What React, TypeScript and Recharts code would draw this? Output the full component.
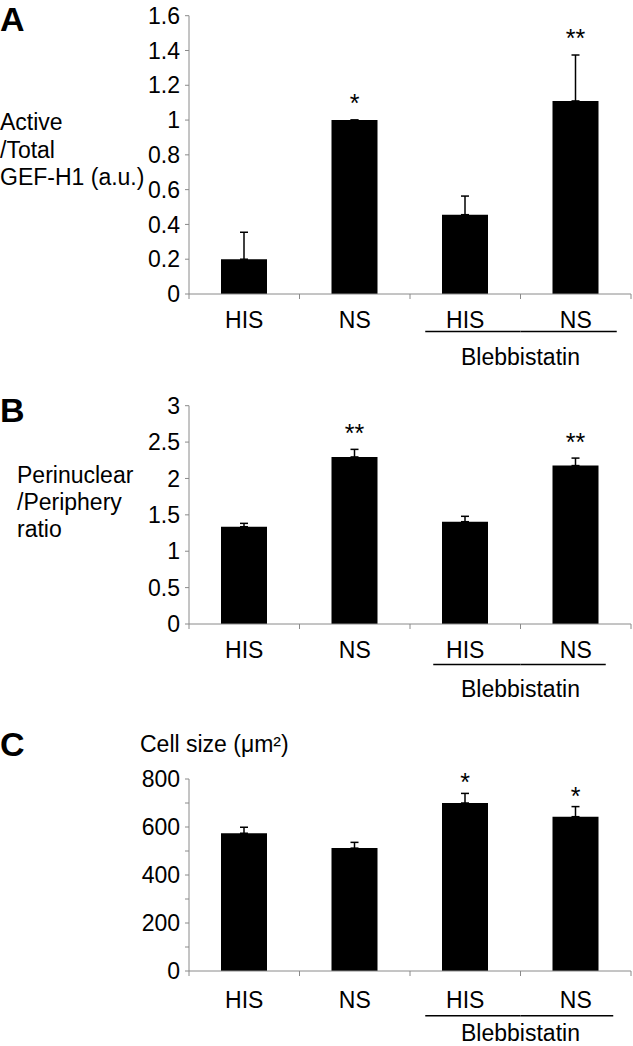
import React from "react";
import { Bar, BarChart, ErrorBar, LabelList, XAxis, YAxis } from "recharts";

const FONT = "'Liberation Sans', Arial, Helvetica, sans-serif";
const AXIS = "#8a8a8a";

// shared categories
const categories = ["HIS", "NS", "HIS", "NS"];
const treatment = ["", "", "Blebbistatin", "Blebbistatin"];

// A: active / total GEF-H1
const gefValues = [0.2, 1.0, 0.456, 1.11];
const gefErrors = [0.155, 0, 0.107, 0.264];
const gefStars = ["", "*", "", "**"];
const gefTicks = [0, 0.2, 0.4, 0.6, 0.8, 1, 1.2, 1.4, 1.6];

// B: perinuclear / periphery ratio
const ratioValues = [1.337, 2.296, 1.406, 2.177];
const ratioErrors = [0.046, 0.104, 0.074, 0.103];
const ratioStars = ["", "**", "", "**"];
const ratioTicks = [0, 0.5, 1, 1.5, 2, 2.5, 3];

// C: cell size
const sizeValues = [574, 512, 700, 643];
const sizeErrors = [25, 24, 40, 42];
const sizeStars = ["", "", "*", "*"];
const sizeTicks = [0, 100, 200, 300, 400, 500, 600, 700, 800];

interface TickLayout {
  labelDy: number;
  lineDy: number;
  groupDy: number;
  lineFrom: number;
  lineTo: number;
}

function CategoryTick(props: any) {
  const { x, y, payload, index, layout } = props;
  const lay = layout as TickLayout;
  const half =
    typeof payload?.offset === "number" && payload.offset > 0 ? payload.offset : 55.25;
  const i = typeof index === "number" ? index : payload?.index ?? 0;
  const grp = treatment[i];
  const startsGroup = grp && treatment[i - 1] !== grp;
  const endsGroup = grp && treatment[i + 1] !== grp;
  return (
    <g>
      {i === 0 && (
        <line x1={x - half} x2={x - half} y1={y} y2={y + 5} stroke={AXIS} />
      )}
      <line x1={x + half} x2={x + half} y1={y} y2={y + 5} stroke={AXIS} />
      <text x={x} y={y + lay.labelDy} textAnchor="middle" fontSize={23} fill="#000">
        {categories[i]}
      </text>
      {grp && (
        <line
          x1={startsGroup ? x - lay.lineFrom : x - half}
          x2={endsGroup ? x + lay.lineTo : x + half}
          y1={y + lay.lineDy}
          y2={y + lay.lineDy}
          stroke="#000"
          strokeWidth={1.5}
        />
      )}
      {startsGroup && !endsGroup && (
        <text x={x + half} y={y + lay.groupDy} textAnchor="middle" fontSize={23} fill="#000">
          {grp}
        </text>
      )}
    </g>
  );
}

function StarLabel(props: any) {
  const { x, y, width, height, index, values, errors, gap } = props;
  const stars: string = props.value;
  if (!stars) return null;
  const v = values[index];
  const perUnit = v ? height / v : 0;
  const top = y - errors[index] * perUnit;
  return (
    <text x={x + width / 2} y={top - gap} textAnchor="middle" fontSize={25} fill="#000">
      {stars}
    </text>
  );
}

interface PanelProps {
  top: number;
  height: number;
  plotTop: number;
  xHeight: number;
  values: number[];
  errors: number[];
  stars: string[];
  ticks: number[];
  max: number;
  starGap: number;
  minorStep?: number;
  layout: TickLayout;
}

function Panel({
  top,
  height,
  plotTop,
  xHeight,
  values,
  errors,
  stars,
  ticks,
  max,
  starGap,
  minorStep,
  layout,
}: PanelProps) {
  const data = categories.map((c, i) => ({
    id: `${c}-${i}`,
    value: values[i],
    err: [0, errors[i]],
    star: stars[i],
  }));
  return (
    <div style={{ position: "absolute", left: 0, top }}>
      <BarChart
        width={633}
        height={height}
        data={data}
        margin={{ top: plotTop, right: 2, left: 0, bottom: 0 }}
        style={{ fontFamily: FONT }}
      >
        <XAxis
          dataKey="id"
          interval={0}
          height={xHeight}
          axisLine={{ stroke: AXIS }}
          tickLine={false}
          tickSize={0}
          tickMargin={0}
          tick={(p: any) => <CategoryTick {...p} layout={layout} />}
        />
        <YAxis
          width={189}
          domain={[0, max]}
          ticks={ticks}
          interval={0}
          allowDataOverflow
          axisLine={{ stroke: AXIS }}
          tickLine={{ stroke: AXIS }}
          tickSize={4}
          tickMargin={5}
          tickFormatter={(v: number) =>
            minorStep && v % (minorStep * 2) !== 0 ? "" : String(v)
          }
          tick={{ fill: "#000", fontSize: 23, fontFamily: FONT }}
        />
        <Bar dataKey="value" fill="#000" barSize={46} isAnimationActive={false}>
          <ErrorBar
            dataKey="err"
            direction="y"
            width={4}
            stroke="#000"
            strokeWidth={1.5}
            isAnimationActive={false}
          />
          <LabelList
            dataKey="star"
            content={(p: any) => (
              <StarLabel {...p} values={values} errors={errors} gap={starGap} />
            )}
          />
        </Bar>
      </BarChart>
    </div>
  );
}

export default function App() {
  return (
    <div
      style={{
        position: "absolute",
        left: 0,
        top: 0,
        width: 633,
        height: 1046,
        overflow: "hidden",
        background: "#fff",
        fontFamily: FONT,
      }}
    >
      <Panel
        top={0}
        height={379}
        plotTop={15.7}
        xHeight={85}
        values={gefValues}
        errors={gefErrors}
        stars={gefStars}
        ticks={gefTicks}
        max={1.6}
        starGap={8}
        layout={{ labelDy: 34, lineDy: 37.5, groupDy: 70.5, lineFrom: 40, lineTo: 41 }}
      />
      <Panel
        top={390}
        height={319}
        plotTop={15.7}
        xHeight={85}
        values={ratioValues}
        errors={ratioErrors}
        stars={ratioStars}
        ticks={ratioTicks}
        max={3}
        starGap={7}
        layout={{ labelDy: 33.5, lineDy: 40.5, groupDy: 73, lineFrom: 32, lineTo: 30 }}
      />
      <Panel
        top={760}
        height={286}
        plotTop={19}
        xHeight={75}
        values={sizeValues}
        errors={sizeErrors}
        stars={sizeStars}
        ticks={sizeTicks}
        max={800}
        starGap={2}
        minorStep={100}
        layout={{ labelDy: 36.5, lineDy: 44.7, groupDy: 69.5, lineFrom: 40, lineTo: 37.5 }}
      />
      <svg
        width={633}
        height={1046}
        style={{ position: "absolute", left: 0, top: 0, pointerEvents: "none" }}
        fontFamily={FONT}
      >
        <text x={0} y={31} fontSize={34} fontWeight="bold">A</text>
        <text x={0} y={422} fontSize={34} fontWeight="bold">B</text>
        <text x={0} y={756} fontSize={34} fontWeight="bold">C</text>
        <g fontSize={23} fill="#000">
          <text x={0} y={130}>Active</text>
          <text x={0} y={157.5}>/Total</text>
          <text x={0} y={185}>GEF-H1 (a.u.)</text>
          <text x={17} y={483}>Perinuclear</text>
          <text x={17} y={510}>/Periphery</text>
          <text x={17} y={537}>ratio</text>
          <text x={140} y={752}>Cell size (μm²)</text>
        </g>
      </svg>
    </div>
  );
}
